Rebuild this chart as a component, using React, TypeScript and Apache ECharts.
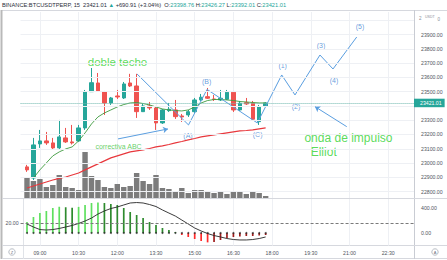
import React, { useEffect, useRef } from 'react';
import * as echarts from 'echarts';

const FONT = "'Liberation Sans', 'DejaVu Sans', Arial, sans-serif";

// ---------- data ----------
const sessionStartMinutes = 8 * 60 + 15; // first slot 08:15, first candle 08:30
const slotCount = 62;
const slotMinutes = 15;

const opens = [22973, 22895, 23134, 23155, 23141, 23106, 23176, 23148, 23155, 23246, 23500, 23561, 23498, 23421, 23470, 23456, 23561, 23540, 23360, 23400, 23386, 23281, 23367, 23372, 23330, 23337, 23360, 23442, 23465, 23449, 23442, 23447, 23496, 23372, 23423, 23419, 23290, 23398.76];
const closes = [22952, 23127, 23155, 23141, 23106, 23183, 23148, 23141, 23246, 23498, 23563, 23505, 23421, 23456, 23463, 23554, 23540, 23360, 23400, 23386, 23281, 23372, 23377, 23325, 23323, 23360, 23442, 23461, 23454, 23445, 23454, 23496, 23372, 23419, 23414, 23307, 23395, 23421.01];
const lows = [22938, 22881, 23106, 23127, 23092, 23092, 23141, 23130, 23148, 23232, 23498, 23498, 23337, 23407, 23449, 23449, 23533, 23316, 23358, 23372, 23232, 23274, 23358, 23309, 23288, 23323, 23351, 23435, 23449, 23435, 23435, 23442, 23358, 23365, 23407, 23302, 23267, 23392.01];
const highs = [22987, 23176, 23232, 23218, 23176, 23302, 23246, 23267, 23267, 23512, 23666, 23631, 23505, 23463, 23512, 23568, 23625, 23625, 23414, 23428, 23400, 23379, 23421, 23442, 23344, 23372, 23456, 23484, 23526, 23477, 23512, 23512, 23505, 23435, 23456, 23435, 23407, 23426.27];
const volumes = [500, 425, 475, 275, 325, 575, 275, 250, 200, 1150, 550, 450, 275, 250, 350, 275, 300, 625, 425, 350, 575, 250, 225, 175, 250, 125, 200, 200, 175, 125, 150, 100, 175, 175, 100, 150, 125, 50];
const maFast = ['-', 22895, 22952, 23001, 23050, 23078, 23099, 23113, 23155, 23211, 23274, 23323, 23351, 23372, 23393, 23410, 23421, 23424, 23417, 23407, 23393, 23379, 23372, 23368, 23365, 23372, 23393, 23421, 23438, 23445, 23445, 23442, 23438, 23431, 23428, 23424, 23421, 23421];
const maSlow = [22825, 22839, 22853, 22867, 22881, 22892, 22902, 22916, 22930, 22952, 22973, 22994, 23015, 23036, 23050, 23064, 23078, 23085, 23092, 23102, 23113, 23120, 23130, 23141, 23151, 23162, 23172, 23183, 23190, 23197, 23204, 23211, 23218, 23225, 23228, 23232, 23239, 23246];
const momentum = [176, 256, 320, 352, 400, 420, 412, 404, 418, 448, 480, 488, 480, 464, 448, 400, 336, 288, 240, 176, 128, 80, 48, 16, -32, -64, -96, -128, -150, -144, -112, -80, -64, -56, -48, -48, -40, -32];
const squeezeDots = [0, 0, 0, 0, 0, 0, 0, 0, 0, 0, 0, 0, 0, 0, 0, 0, 0, 0, 0, 0, 0, 0, 0, 0, 0, 0, 0, 0, 0, 0, 0, 0, 0, 0, 0, 0, 0, 0];
const adx = [19.4, 16.7, 14.4, 14.0, 14.4, 15.4, 16.7, 18.1, 19.9, 22.1, 24.8, 28.4, 31.2, 33.4, 34.8, 36.6, 38.4, 38.8, 38.4, 37.0, 35.2, 32.1, 29.3, 26.6, 23.0, 19.4, 15.8, 13.1, 10.8, 9.0, 7.7, 6.3, 5.4, 5.0, 5.0, 5.4, 6.3, 7.7];

const priceTicks = [22800, 22900, 23000, 23100, 23200, 23300, 23400, 23500, 23600, 23700, 23800, 23900, 24000];
const histTickLabels = [0, 400];
const adxLevel = 20;
const lastPrice = 23421.01;
const barCountdown = '13:37';

// drawings (x in bar slots, y in price)
const wavePath = [[18.06, 23624], [26.04, 23267], [28.91, 23516], [36.71, 23281], [40.49, 23617], [42.55, 23477], [46.42, 23757], [48.44, 23659], [52.12, 23883]];
const waveLabels = [[25.96, 23190, '(A)'], [28.86, 23570, '(B)'], [36.76, 23197, '(C)'], [40.64, 23680, '(1)'], [42.7, 23395, '(2)'], [46.58, 23823, '(3)'], [48.6, 23575, '(4)'], [52.63, 23954, '(5)']];
const notes = [[15.03, 23708, 'doble techo'], [15.19, 23113, 'correctiva ABC'], [50.84, 23176, 'onda de impulso'], [47.0, 23078, 'Elliot']];
const arrows = [[[15.11, 23169], [22.86, 23239]], [[50.57, 23255], [45.65, 23395]]];

const headerParts = [
  ['BINANCE:BTCUSDTPERP, 15  23421.01 ', 'd'], ['▲', 'u'], [' +690.91 (+3.04%)  O:', 'd'], ['23398.76', 'u'],
  [' H:', 'd'], ['23426.27', 'u'], [' L:', 'd'], ['23392.01', 'u'], [' C:', 'd'], ['23421.01', 'u'],
];

// ---------- styling / layout ----------
const UP = '#26a69a';
const DOWN = '#ef5350';
const BLUE = '#5a9ee0';
const GREEN_TEXT = '#2fd22f';
const GRID_LINE = '#eef0f4';
const HEADER_SIZE = 5.7;
const noteSizes = [11.5, 7, 12, 12];
const noteColors = [GREEN_TEXT, '#3cc43c', GREEN_TEXT, GREEN_TEXT];

const pad2 = (n: number) => (n < 10 ? '0' + n : '' + n);
const categories = Array.from({ length: slotCount }, (_, k) => {
  const m = sessionStartMinutes + slotMinutes * k;
  return pad2(Math.floor(m / 60) % 24) + ':' + pad2(m % 60);
});
const labelEvery = (idx: number) => idx >= 3 && (idx - 3) % 6 === 0;

const lead = ['-'];
const candleData = lead.concat(opens.map((o, i) => [o, closes[i], lows[i], highs[i]]) as any);
const momColor = (v: number, p: number | undefined) => {
  if (v >= 0) return p === undefined || v > p ? '#5fe05f' : '#2e8b2e';
  return p !== undefined && v < p ? '#ff2b2b' : '#a01c1c';
};

function buildOption(): any {
  const grids = [
    { left: 20.55, right: 33, top: 6.05, height: 199.8 },
    { left: 20.55, right: 33, top: 12, height: 186 },
    { left: 20.55, right: 33, top: 199, height: 46.5 },
  ];
  const axisText = { fontSize: 5.2, color: '#505560', fontFamily: FONT };
  const headerText = headerParts.map(([t, k]) => '{' + k + '|' + t + '}').join('');
  return {
    animation: false,
    backgroundColor: '#ffffff',
    grid: grids,
    xAxis: [
      { type: 'category', gridIndex: 0, data: categories, boundaryGap: false, show: false },
      {
        type: 'category', gridIndex: 1, data: categories, boundaryGap: false,
        axisLine: { show: false }, axisTick: { show: false }, axisLabel: { show: false },
        splitLine: { show: true, interval: labelEvery, lineStyle: { color: GRID_LINE, width: 1 } },
      },
      {
        type: 'category', gridIndex: 2, data: categories, boundaryGap: false,
        axisLine: { show: false }, axisTick: { show: false },
        axisLabel: {
          show: true, interval: 0, margin: 4.5, ...axisText, hideOverlap: false,
          formatter: (value: string, index: number) => (labelEvery(index) ? value : ''),
        },
        splitLine: { show: true, interval: labelEvery, lineStyle: { color: GRID_LINE, width: 1 } },
      },
      { type: 'value', gridIndex: 0, min: 0, max: slotCount - 1, show: false },
    ],
    yAxis: [
      {
        type: 'value', gridIndex: 0, position: 'right', min: 22700, max: 24100, interval: 100,
        axisLine: { show: false }, axisTick: { show: false }, splitLine: { show: false },
        axisLabel: {
          margin: 7, ...axisText,
          formatter: (v: number) => (v >= 22800 && v <= 23900 && Math.abs(v - lastPrice) > 40 ? v.toFixed(2) : ''),
        },
      },
      { type: 'value', gridIndex: 1, min: 0, max: 4650, show: false },
      {
        type: 'value', gridIndex: 2, position: 'right', min: -200, max: 544, interval: 200,
        axisLine: { show: false }, axisTick: { show: false }, splitLine: { show: false },
        axisLabel: { margin: 7, ...axisText, formatter: (v: number) => (histTickLabels.includes(v) ? v.toFixed(2) : '') },
      },
      {
        type: 'value', gridIndex: 2, position: 'left', min: 0, max: 42, interval: 20,
        axisLine: { show: false }, axisTick: { show: false }, splitLine: { show: false },
        axisLabel: { margin: 2, ...axisText, formatter: (v: number) => (v === adxLevel ? v.toFixed(2) : '') },
      },
    ],
    series: [
      {
        type: 'bar', name: 'Volume', xAxisIndex: 1, yAxisIndex: 1, data: lead.concat(volumes as any),
        barWidth: '84%', itemStyle: { color: '#7c7c7c' }, silent: true,
      },
      {
        type: 'line', name: 'MA slow', xAxisIndex: 0, yAxisIndex: 0, data: lead.concat(maSlow as any),
        showSymbol: false, symbol: 'none', lineStyle: { color: '#e8383d', width: 1.2 }, silent: true,
        markLine: {
          silent: true, symbol: 'none', label: { show: false },
          lineStyle: { color: GRID_LINE, type: 'solid', width: 1 },
          data: priceTicks.map((v) => ({ yAxis: v })),
        },
      },
      {
        type: 'line', name: 'MA fast', xAxisIndex: 0, yAxisIndex: 0, data: lead.concat(maFast as any),
        showSymbol: false, symbol: 'none', lineStyle: { color: '#3d9a3d', width: 0.9 }, silent: true,
      },
      {
        type: 'candlestick', name: 'BTCUSDTPERP', xAxisIndex: 0, yAxisIndex: 0, data: candleData,
        barWidth: '62%', silent: true,
        itemStyle: { color: UP, color0: DOWN, borderColor: UP, borderColor0: DOWN, borderWidth: 1 },
        markLine: {
          silent: true, symbol: 'none',
          data: [
            {
              yAxis: lastPrice,
              lineStyle: { color: '#6fb8ae', type: 'dotted', width: 1 },
              label: {
                show: true, position: 'end', distance: 0, formatter: lastPrice.toFixed(2),
                backgroundColor: UP, color: '#ffffff', fontSize: 5.2, fontFamily: FONT, padding: [2, 3, 1.5, 6],
              },
            },
            {
              yAxis: lastPrice,
              lineStyle: { opacity: 0, width: 0 },
              label: {
                show: true, position: 'end', distance: 9, offset: [0, 8], formatter: barCountdown,
                backgroundColor: UP, color: '#ffffff', fontSize: 5.2, fontFamily: FONT, padding: [2, 3, 1.5, 3],
              },
            },
          ],
        },
      },
      {
        type: 'line', name: 'Ondas', xAxisIndex: 3, yAxisIndex: 0, data: wavePath,
        showSymbol: false, symbol: 'none', lineStyle: { color: BLUE, width: 1 }, silent: true,
        markLine: {
          silent: true, symbol: ['none', 'arrow'], symbolSize: 5, label: { show: false },
          lineStyle: { color: BLUE, type: 'solid', width: 1 },
          data: arrows.map(([a, b]) => [{ coord: a }, { coord: b }]),
        },
      },
      {
        type: 'scatter', name: 'Etiquetas', xAxisIndex: 3, yAxisIndex: 0, symbolSize: 1, silent: true,
        itemStyle: { color: 'rgba(0,0,0,0)' },
        data: waveLabels.map((w) => ({ value: [w[0], w[1]], name: w[2] })),
        label: { show: true, position: 'inside', align: 'center', formatter: (p: any) => p.name, color: '#3f86d4', fontSize: 7, fontFamily: FONT },
      },
      {
        type: 'scatter', name: 'Notas', xAxisIndex: 3, yAxisIndex: 0, symbolSize: 1, silent: true,
        itemStyle: { color: 'rgba(0,0,0,0)' },
        data: notes.map((n, i) => ({
          value: [n[0], n[1]], name: n[2],
          label: { fontSize: noteSizes[i], color: noteColors[i] },
        })),
        label: { show: true, position: 'inside', align: 'center', formatter: (p: any) => p.name, fontFamily: FONT },
      },
      {
        type: 'bar', name: 'Momentum', xAxisIndex: 2, yAxisIndex: 2, barWidth: 1.7, silent: true,
        data: lead.concat(momentum.map((v, i) => ({ value: v, itemStyle: { color: momColor(v, i ? momentum[i - 1] : undefined) } })) as any),
      },
      {
        type: 'scatter', name: 'Squeeze', xAxisIndex: 2, yAxisIndex: 2, symbolSize: 2, silent: true,
        itemStyle: { color: '#2a2a2a' }, data: lead.concat(squeezeDots as any),
      },
      {
        type: 'line', name: 'ADX', xAxisIndex: 2, yAxisIndex: 3, data: lead.concat(adx as any),
        showSymbol: false, symbol: 'none', lineStyle: { color: '#262626', width: 0.9 }, silent: true,
        markLine: {
          silent: true, symbol: 'none', label: { show: false },
          lineStyle: { color: '#7a7a7a', type: [3, 2], width: 1 },
          data: [{ yAxis: adxLevel }],
        },
      },
    ],
    graphic: [
      {
        type: 'text', x: 2, y: 5, silent: true,
        style: {
          text: headerText, fontSize: HEADER_SIZE, fontFamily: FONT, verticalAlign: 'middle',
          rich: {
            d: { fill: '#2a2e39', fontSize: HEADER_SIZE, fontFamily: FONT },
            u: { fill: UP, fontSize: HEADER_SIZE, fontFamily: FONT },
          },
        },
      },
      { type: 'line', silent: true, shape: { x1: 2, y1: 10.5, x2: 447, y2: 10.5 }, style: { stroke: '#d6d8de', lineWidth: 1 } },
      { type: 'line', silent: true, shape: { x1: 1.5, y1: 10, x2: 1.5, y2: 259 }, style: { stroke: '#b9b9b9', lineWidth: 2 } },
      { type: 'line', silent: true, shape: { x1: 2, y1: 258.5, x2: 447, y2: 258.5 }, style: { stroke: '#d6d8de', lineWidth: 1 } },
      { type: 'line', silent: true, shape: { x1: 414.5, y1: 10, x2: 414.5, y2: 259 }, style: { stroke: '#c9ccd3', lineWidth: 1 } },
      { type: 'line', silent: true, shape: { x1: 23.5, y1: 199, x2: 23.5, y2: 259 }, style: { stroke: '#e0e3e8', lineWidth: 1 } },
      { type: 'line', silent: true, shape: { x1: 2, y1: 198.5, x2: 447, y2: 198.5 }, style: { stroke: '#d6d8de', lineWidth: 1 } },
      { type: 'line', silent: true, shape: { x1: 2, y1: 245.5, x2: 447, y2: 245.5 }, style: { stroke: '#d6d8de', lineWidth: 1 } },
      { type: 'text', x: 419, y: 18, silent: true, style: { text: '2', fill: '#8a8f99', fontSize: 4.5, fontFamily: FONT, verticalAlign: 'middle' } },
      { type: 'text', x: 425, y: 16.5, silent: true, style: { text: 'USDT', fill: '#8a8f99', fontSize: 3.6, fontFamily: FONT, verticalAlign: 'middle' } },
      { type: 'text', x: 437.5, y: 19.5, silent: true, style: { text: '0', fill: '#8a8f99', fontSize: 4.5, fontFamily: FONT, verticalAlign: 'middle' } },
      { type: 'circle', silent: true, shape: { cx: 12, cy: 252, r: 3.2 }, style: { fill: 'none', stroke: '#9aa0aa', lineWidth: 0.7 } },
      { type: 'text', x: 12, y: 252.2, silent: true, style: { text: 'Z', fill: '#6a707a', fontSize: 4, fontFamily: FONT, align: 'center', verticalAlign: 'middle' } },
      { type: 'circle', silent: true, shape: { cx: 435, cy: 252, r: 3.2 }, style: { fill: 'none', stroke: '#9aa0aa', lineWidth: 0.7 } },
      { type: 'text', x: 435, y: 252.2, silent: true, style: { text: 'A', fill: '#6a707a', fontSize: 4, fontFamily: FONT, align: 'center', verticalAlign: 'middle' } },
    ],
  };
}

export default function App() {
  const ref = useRef<HTMLDivElement>(null);
  useEffect(() => {
    if (!ref.current) return;
    const chart = echarts.init(ref.current, null, { renderer: 'svg' });
    chart.setOption(buildOption());
    return () => chart.dispose();
  }, []);
  return (
    <div
      ref={ref}
      style={{ position: 'fixed', left: 0, top: 0, width: 447, height: 260, background: '#ffffff' }}
    />
  );
}
